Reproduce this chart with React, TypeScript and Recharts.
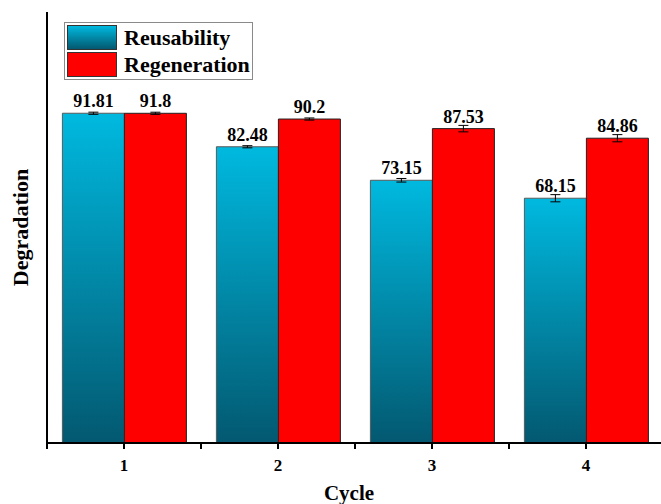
import { BarChart, Bar, XAxis, YAxis, Legend, ErrorBar, LabelList } from 'recharts'

const cycles = ['1', '2', '3', '4']
const reusability = [91.81, 82.48, 73.15, 68.15]
const reusabilityErr = [0.3, 0.3, 0.5, 1.0]
const regeneration = [91.8, 90.2, 87.53, 84.86]
const regenerationErr = [0.3, 0.3, 0.9, 1.0]

const FONT = '"Liberation Serif", "Times New Roman", serif'
const CYAN_TOP = '#00b9df'
const CYAN_BOTTOM = '#035870'

const data = cycles.map((c, i) => ({
  cycle: c,
  reuse: reusability[i],
  reuseErr: reusabilityErr[i],
  regen: regeneration[i],
  regenErr: regenerationErr[i],
}))

const TICK_SIZE = 6
const TICK_MARGIN = 10

// major tick comes from the axis, minor tick drawn at the band's left edge
function CycleTick({ x, y, payload }: any) {
  const axisY = y - TICK_SIZE - TICK_MARGIN
  const half = payload?.offset ?? 0
  return (
    <g>
      {half > 0 && (
        <line x1={x - half} x2={x - half} y1={axisY} y2={axisY + TICK_SIZE} stroke="#000" strokeWidth={2} />
      )}
      <text x={x} y={y} dy="0.71em" textAnchor="middle" fontFamily={FONT} fontWeight="bold" fontSize={17} fill="#000">
        {payload.value}
      </text>
    </g>
  )
}

function LegendBox() {
  const row = { display: 'flex', alignItems: 'center', height: 27 } as const
  const swatch = { width: 48, height: 23, border: '1px solid #333', marginRight: 7 } as const
  return (
    <div style={{ border: '1px solid #8a8a8a', background: '#fff', padding: '1px 2px', width: 183, fontFamily: FONT, fontWeight: 'bold', fontSize: 22, lineHeight: '24px', color: '#000' }}>
      <div style={row}>
        <div style={{ ...swatch, background: `linear-gradient(${CYAN_TOP}, ${CYAN_BOTTOM})` }} />
        <span>Reusability</span>
      </div>
      <div style={row}>
        <div style={{ ...swatch, background: '#ff0000' }} />
        <span>Regeneration</span>
      </div>
    </div>
  )
}

export default function App() {
  const labelStyle = { fontFamily: FONT, fontWeight: 'bold', fontSize: 18, fill: '#000' }
  return (
    <div style={{ position: 'absolute', left: 0, top: 0, width: 661, height: 504, overflow: 'hidden', background: '#fff' }}>
      <BarChart width={665} height={504} data={data} margin={{ top: 12, right: 2, left: 0, bottom: 0 }} barCategoryGap="10%" barGap={0}>
        <defs>
          <linearGradient id="reuseGrad" x1="0" y1="0" x2="0" y2="1">
            <stop offset="0%" stopColor={CYAN_TOP} />
            <stop offset="100%" stopColor={CYAN_BOTTOM} />
          </linearGradient>
        </defs>
        <XAxis
          dataKey="cycle"
          height={61}
          axisLine={{ stroke: '#000', strokeWidth: 2 }}
          tickLine={{ stroke: '#000', strokeWidth: 2 }}
          tickSize={TICK_SIZE}
          tickMargin={TICK_MARGIN}
          tick={<CycleTick />}
          label={{ value: 'Cycle', position: 'insideTop', offset: 42, dx: -6, style: { fontFamily: FONT, fontWeight: 'bold', fontSize: 21, fill: '#000' } }}
        />
        <XAxis xAxisId="top" dataKey="cycle" orientation="top" height={0} tick={false} tickLine={false} axisLine={{ stroke: '#000', strokeWidth: 2 }} />
        <YAxis
          width={47}
          domain={[0, 120]}
          tick={false}
          tickLine={false}
          axisLine={{ stroke: '#000', strokeWidth: 2 }}
          label={{ value: 'Degradation', angle: -90, position: 'insideLeft', offset: 20, style: { textAnchor: 'middle', fontFamily: FONT, fontWeight: 'bold', fontSize: 22, fill: '#000' } }}
        />
        <Legend layout="horizontal" verticalAlign="middle" align="center" wrapperStyle={{ left: 64, top: 22, width: 'auto' }} content={<LegendBox />} />
        <Bar dataKey="reuse" name="Reusability" fill="url(#reuseGrad)" stroke="#5a5a5a" strokeWidth={1} isAnimationActive={false}>
          <ErrorBar dataKey="reuseErr" width={5} stroke="#000" strokeWidth={1} />
          <LabelList dataKey="reuse" position="top" offset={6} style={labelStyle} />
        </Bar>
        <Bar dataKey="regen" name="Regeneration" fill="#ff0000" stroke="#222" strokeWidth={1} isAnimationActive={false}>
          <ErrorBar dataKey="regenErr" width={5} stroke="#000" strokeWidth={1} />
          <LabelList dataKey="regen" position="top" offset={6} style={labelStyle} />
        </Bar>
      </BarChart>
    </div>
  )
}
